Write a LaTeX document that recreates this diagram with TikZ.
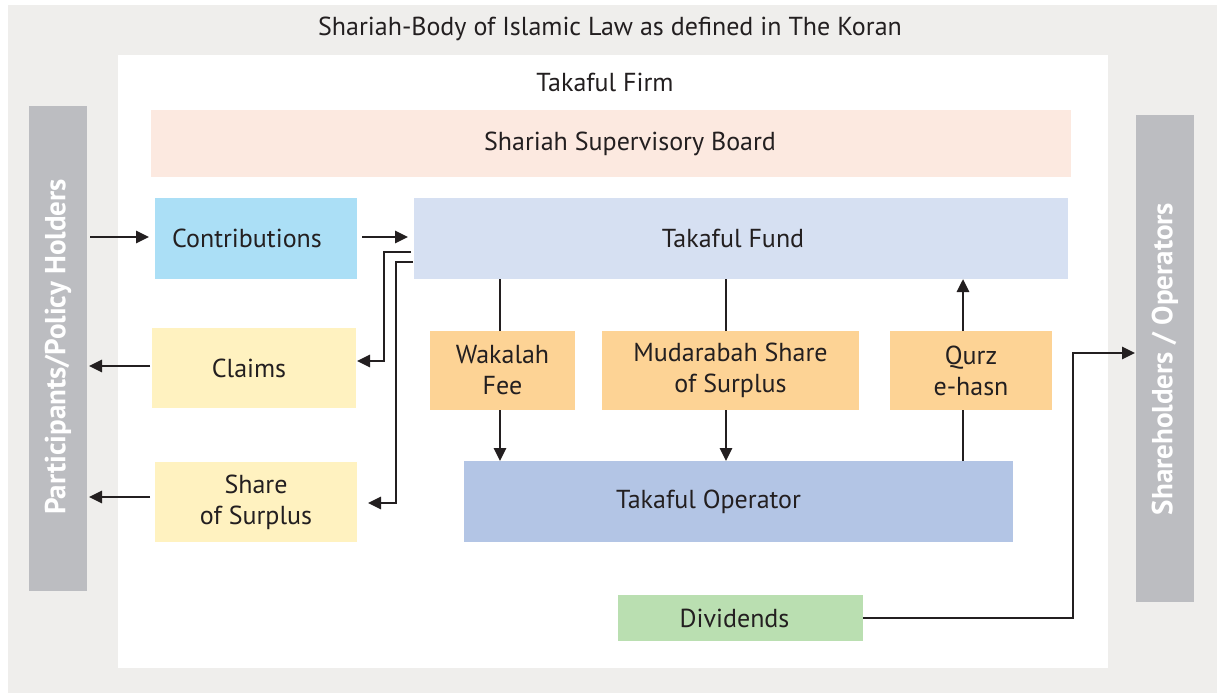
\documentclass[tikz,border=0pt]{standalone}
\usepackage{fontspec}
\setmainfont{PT Sans}
\usetikzlibrary{arrows.meta,calc}
\definecolor{bg}{HTML}{EFEEEC}
\definecolor{bar}{HTML}{BCBDC1}
\definecolor{ssbc}{HTML}{FCE9E0}
\definecolor{contc}{HTML}{ABDFF6}
\definecolor{fundc}{HTML}{D6E0F2}
\definecolor{yelc}{HTML}{FFF2C0}
\definecolor{orc}{HTML}{FDD395}
\definecolor{opc}{HTML}{B3C5E5}
\definecolor{divc}{HTML}{BADFB1}
\definecolor{ink}{HTML}{231F20}
\newcommand\txshift[2]{\hspace*{#1pt}#2}
\tikzset{
  box/.style={rectangle,inner sep=0pt,outer sep=0pt,text=ink,font=\fontsize{26}{31}\selectfont,align=center},
  sidebar/.style={rectangle,inner sep=0pt,outer sep=0pt,fill=bar},
  sidetext/.style={text=white,font=\bfseries\fontsize{29}{33}\selectfont,rotate=90},
  arr/.style={draw=ink,line width=2.8pt,-{Triangle[length=13pt,width=12pt]}},
  ln/.style={draw=ink,line width=2.8pt}
}
\begin{document}
\begin{tikzpicture}[x=1pt,y=-1pt]
\useasboundingbox (0,0) rectangle (1217,693);
\fill[white] (0,0) rectangle (1217,693);
\fill[bg] (8,5) rectangle (1217,693);
\node[box] (title) at (610,29) {Shariah-Body of Islamic Law as defined in The Koran};
\fill[white] (118,55) rectangle (1108,668);
\node[box] (firm) at (605,82) {Takaful Firm};
\node[box,fill=ssbc,minimum width=920pt,minimum height=67pt] (ssb) at (611,143.5) {\txshift{38}{Shariah Supervisory Board}};
\node[sidebar,minimum width=58pt,minimum height=485pt] (lbar) at (58,348.5) {};
\node[sidetext] (ltext) at (58,347) {Participants/Policy Holders};
\node[sidebar,minimum width=58pt,minimum height=487pt] (rbar) at (1165,358.5) {};
\node[sidetext] (rtext) at (1165,359) {Shareholders / Operators};
\node[box,fill=contc,minimum width=202pt,minimum height=81pt] (contrib) at (256,238.5) {\txshift{-18}{Contributions}};
\node[box,fill=fundc,minimum width=654pt,minimum height=81pt] (fund) at (741,238.5) {\txshift{-16}{Takaful Fund}};
\node[box,fill=yelc,minimum width=204pt,minimum height=80pt] (claims) at (254,368) {\txshift{-10}{Claims}};
\node[box,fill=yelc,minimum width=202pt,minimum height=80pt] (surplus) at (256,502) {Share\\of Surplus};
\node[box,fill=orc,minimum width=145pt,minimum height=79pt] (wak) at (502.5,370.5) {Wakalah\\Fee};
\node[box,fill=orc,minimum width=257pt,minimum height=79pt] (mud) at (730.5,370.5) {Mudarabah Share\\of Surplus};
\node[box,fill=orc,minimum width=162pt,minimum height=79pt] (qurz) at (971,370.5) {Qurz\\e-hasn};
\node[box,fill=opc,minimum width=549pt,minimum height=81pt] (op) at (738.5,501.5) {\txshift{-60}{Takaful Operator}};
\node[box,fill=divc,minimum width=245pt,minimum height=46pt] (div) at (740.5,618) {\txshift{-12}{Dividends}};
% left side arrows
\draw[arr,shorten <=3pt,shorten >=6pt] ($(contrib.west -| lbar.east)+(0,-1.5)$) -- ($(contrib.west)+(0,-1.5)$);
\draw[arr,shorten <=5pt,shorten >=6pt] ($(contrib.east)+(0,-1.5)$) -- ($(fund.west)+(0,-1.5)$);
\draw[arr,shorten <=2pt,shorten >=2pt] ($(claims.west)+(0,-2)$) -- ($(claims.west -| lbar.east)+(0,-2)$);
\draw[arr,shorten <=5pt,shorten >=2pt] ($(surplus.west)+(0,-5)$) -- ($(surplus.west -| lbar.east)+(0,-5)$);
% fund to claims / surplus
\draw[arr,line join=miter] ($(fund.north west)+(-3,54)$) -- ++(-27,0) |- ($(claims.east)+(1,-7)$);
\draw[arr,line join=miter] ($(fund.north west)+(-1,64)$) -- ++(-17,0) |- ($(surplus.east)+(11,1)$);
% fund - middle boxes - operator
\draw[ln] ($(wak.north)+(-2.5,0)$) -- ($(wak.north |- fund.south)+(-2.5,0)$);
\draw[arr] ($(wak.south)+(-2.5,0)$) -- ($(wak.south |- op.north)+(-2.5,0)$);
\draw[ln] ($(mud.north)+(-4.5,0)$) -- ($(mud.north |- fund.south)+(-4.5,0)$);
\draw[arr] ($(mud.south)+(-4.5,0)$) -- ($(mud.south |- op.north)+(-4.5,0)$);
\draw[ln] ($(qurz.south |- op.north)+(-8,0)$) -- ($(qurz.south)+(-8,0)$);
\draw[arr] ($(qurz.north)+(-8,0)$) -- ($(qurz.north |- fund.south)+(-8,0)$);
% dividends
\draw[arr,line join=miter,shorten >=1pt] (div.east) -- ++(210,0) |- ($(rbar.west)+(0,-5.5)$);
\end{tikzpicture}
\end{document}
